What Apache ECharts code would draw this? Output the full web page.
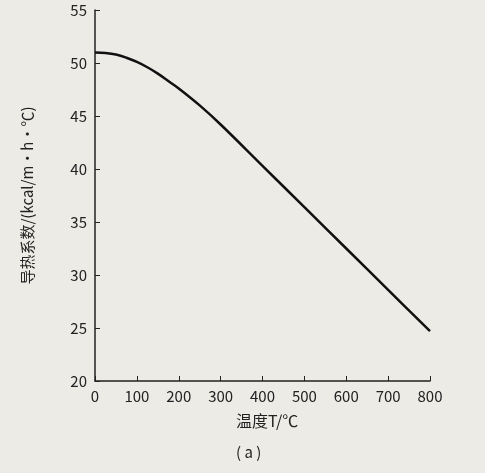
<!DOCTYPE html>
<html lang="zh" style="height: 100%">
<head>
<meta charset="utf-8">
<title>导热系数</title>
</head>
<body style="height: 100%; margin: 0; background: #ecebe6">
<div id="container" style="height: 100%"></div>
<script type="text/javascript" src="https://cdn.jsdelivr.net/npm/echarts/dist/echarts.min.js"></script>
<script type="text/javascript">
var dom = document.getElementById('container');
var myChart = echarts.init(dom);

var temps = [0, 25, 50, 75, 100, 125, 150, 175, 200, 250, 300, 400, 500, 600, 700, 800];
var conductivity = [51, 50.95, 50.8, 50.5, 50.1, 49.6, 49.0, 48.3, 47.6, 46.0, 44.2, 40.3, 36.4, 32.5, 28.6, 24.7];

var font = '"Noto Sans CJK SC", "DejaVu Serif", serif';

var option = {
    backgroundColor: '#ecebe6',
    grid: { left: 95, right: 55, top: 10, bottom: 92 },
    xAxis: {
        type: 'value', min: 0, max: 800, interval: 100,
        axisLine: { lineStyle: { color: '#222', width: 1.5 } },
        axisTick: { inside: true, length: 5, lineStyle: { color: '#222' } },
        axisLabel: { color: '#222', fontSize: 15, fontFamily: font, margin: 8 },
        splitLine: { show: false }
    },
    yAxis: {
        type: 'value', min: 20, max: 55, interval: 5,
        name: '导热系数/(kcal/m·h·℃)', nameLocation: 'middle', nameGap: 60,
        nameTextStyle: { color: '#222', fontSize: 15, fontFamily: font },
        axisLine: { show: true, lineStyle: { color: '#222', width: 1.5 } },
        axisTick: { show: true, inside: true, length: 5, lineStyle: { color: '#222' } },
        axisLabel: { color: '#222', fontSize: 15, fontFamily: font, margin: 8 },
        splitLine: { show: false }
    },
    graphic: [
        { type: 'text', left: 236, top: 413, style: { text: '温度T/℃', fill: '#222', font: '16px ' + font } },
        { type: 'text', left: 236, top: 445, style: { text: '( a )', fill: '#222', font: '15px ' + font } }
    ],
    series: [{
        type: 'line', smooth: 0.4, showSymbol: false,
        data: temps.map(function (t, i) { return [t, conductivity[i]]; }),
        lineStyle: { color: '#111', width: 2.5 }
    }]
};

myChart.setOption(option);
window.addEventListener('resize', myChart.resize);
</script>
</body>
</html>
